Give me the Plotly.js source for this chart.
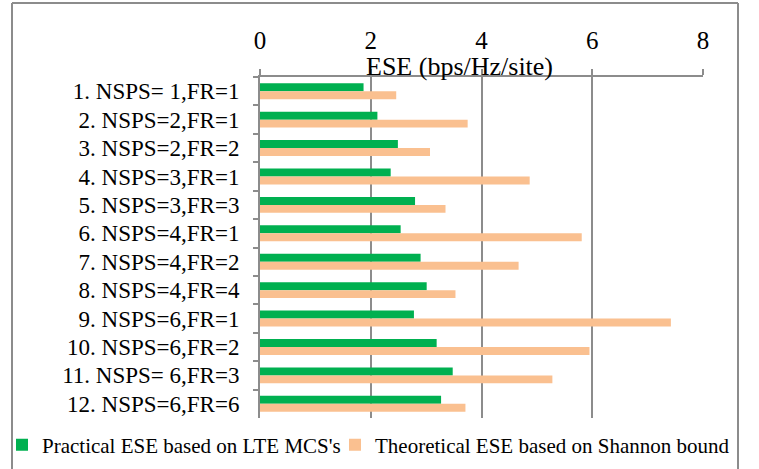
<!DOCTYPE html>
<html>
<head>
<meta charset="utf-8">
<script src="https://cdn.plot.ly/plotly-3.0.1.min.js"></script>
<style>html,body{margin:0;padding:0;background:#fff;}#chart{width:759px;height:469px;}</style>
</head>
<body>
<div id="chart"></div>
<script>
const categories = [
  "1. NSPS= 1,FR=1", "2. NSPS=2,FR=1", "3. NSPS=2,FR=2", "4. NSPS=3,FR=1",
  "5. NSPS=3,FR=3", "6. NSPS=4,FR=1", "7. NSPS=4,FR=2", "8. NSPS=4,FR=4",
  "9. NSPS=6,FR=1", "10. NSPS=6,FR=2", "11. NSPS= 6,FR=3", "12. NSPS=6,FR=6"
];
const practical = [1.87, 2.12, 2.49, 2.36, 2.80, 2.54, 2.90, 3.01, 2.78, 3.19, 3.48, 3.27];
const theoretical = [2.46, 3.75, 3.07, 4.87, 3.35, 5.81, 4.67, 3.53, 7.42, 5.95, 5.28, 3.71];
const seriesNames = ["Practical ESE based on LTE MCS's", "Theoretical ESE based on Shannon bound"];
const xTicks = [0, 2, 4, 6, 8];
const axisTitle = "ESE (bps/Hz/site)";

const FONT = "Liberation Serif";
const GRID = "#8c8c8c";

const traces = [
  {type: "bar", orientation: "h", y: categories, x: practical, name: seriesNames[0],
   marker: {color: "#00B050"}, legend: "legend"},
  {type: "bar", orientation: "h", y: categories, x: theoretical, name: seriesNames[1],
   marker: {color: "#FAC090"}, legend: "legend2"}
];

// pixel helpers for the frame (plot area: x 260..703, y 77..418)
const L = 260, W = 443, T = 77, H = 341, FW = 759, FH = 469;
const px = v => (v - L) / W;
const py = v => (T + H - v) / H;

const layout = {
  width: FW, height: FH,
  margin: {l: L, r: FW - L - W, t: T, b: FH - T - H},
  paper_bgcolor: "#fff", plot_bgcolor: "#fff",
  font: {family: FONT, color: "#000"},
  barmode: "group", bargap: 0.44, bargroupgap: 0,
  xaxis: {
    side: "top", range: [0, 8], tickvals: xTicks, ticktext: xTicks.map(String),
    showgrid: true, gridcolor: GRID, gridwidth: 2,
    showline: true, linecolor: GRID, linewidth: 2,
    ticks: "outside", ticklen: 6, tickwidth: 2, tickcolor: GRID,
    tickfont: {family: FONT, size: 25, color: "#000"},
    ticklabelstandoff: 10, zeroline: false, fixedrange: true, automargin: false
  },
  yaxis: {
    type: "category", autorange: "reversed", tickmode: "linear", tick0: 0, dtick: 1,
    showgrid: false, showline: true, linecolor: GRID, linewidth: 2,
    ticks: "outside", tickson: "boundaries", ticklen: 5, tickwidth: 2, tickcolor: GRID,
    tickfont: {family: FONT, size: 23, color: "#000"},
    ticklabelstandoff: 14, fixedrange: true, automargin: false
  },
  annotations: [{
    text: axisTitle, xref: "paper", yref: "paper", x: px(459), y: py(66),
    xanchor: "center", yanchor: "middle", showarrow: false,
    font: {family: FONT, size: 26, color: "#000"}
  }],
  shapes: [
    {type: "line", xref: "paper", yref: "paper", x0: px(12), x1: px(12), y0: py(3), y1: py(480), line: {color: GRID, width: 2}},
    {type: "line", xref: "paper", yref: "paper", x0: px(12), x1: px(738), y0: py(3), y1: py(3), line: {color: GRID, width: 2}},
    {type: "line", xref: "paper", yref: "paper", x0: px(738), x1: px(738), y0: py(3), y1: py(480), line: {color: GRID, width: 2}}
  ],
  showlegend: true,
  legend: {xref: "container", yref: "container", x: 2 / FW, y: 1 - 445 / FH,
           xanchor: "left", yanchor: "middle", orientation: "h",
           font: {family: FONT, size: 21, color: "#000"}, bgcolor: "rgba(0,0,0,0)", itemwidth: 30},
  legend2: {xref: "container", yref: "container", x: 335 / FW, y: 1 - 445 / FH,
           xanchor: "left", yanchor: "middle", orientation: "h",
           font: {family: FONT, size: 21, color: "#000"}, bgcolor: "rgba(0,0,0,0)", itemwidth: 30}
};

Plotly.newPlot("chart", traces, layout, {displayModeBar: false, staticPlot: true});
</script>
</body>
</html>
